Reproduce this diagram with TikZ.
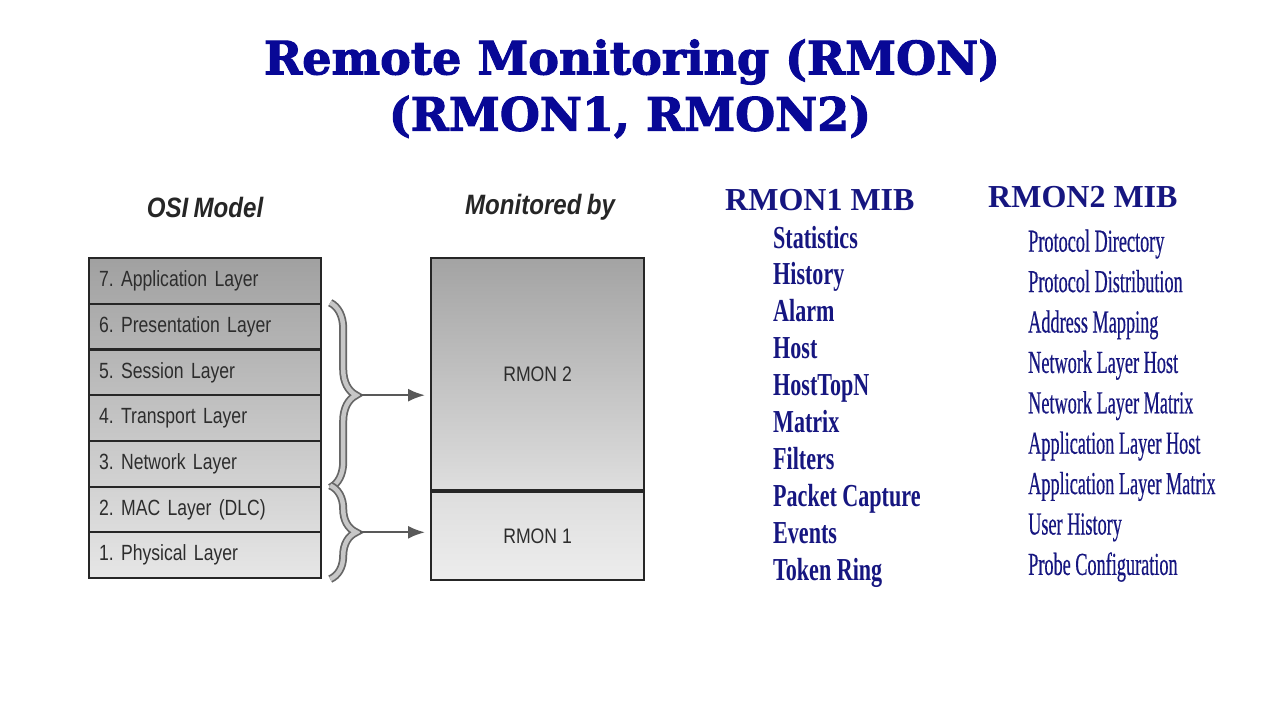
\documentclass[tikz,border=0pt]{standalone}
\usepackage{fontspec}
\setmainfont{Liberation Serif}
\newfontfamily\titlefont[FakeBold=2.2]{DejaVu Serif}
\newfontfamily\layerfont[FakeStretch=0.8,WordSpace=0.45]{Liberation Sans}
\newfontfamily\boxfont[FakeStretch=0.84]{Liberation Sans}
\newfontfamily\headfont[FakeStretch=0.86,WordSpace=0.8]{Liberation Sans}
\newfontfamily\condbold[FakeStretch=0.69]{Liberation Serif}
\newfontfamily\condserif[FakeStretch=0.57,FakeBold=0.4]{Liberation Serif}
\usepackage{xcolor}
\usetikzlibrary{arrows.meta,positioning,decorations.pathreplacing,calc}
\definecolor{titleblue}{RGB}{8,8,150}
\definecolor{mibblue}{RGB}{22,22,128}
\definecolor{layertext}{RGB}{45,45,45}
\frenchspacing

\begin{document}
\begin{tikzpicture}[x=1pt,y=-1pt,>=Latex,
 layer/.style={draw=black!85,line width=2.2pt,anchor=north west,minimum width=232pt,minimum height=45.7pt,text width=212pt,inner xsep=10pt,align=left,font=\layerfont\fontsize{22}{24}\selectfont,text=layertext},
 monitor/.style={draw=black!85,line width=2.2pt,minimum width=213pt,font=\boxfont\fontsize{21}{24}\selectfont,text=layertext},
 heading/.style={font=\headfont\bfseries\itshape\fontsize{28}{30}\selectfont,text=black!85},
 title/.style={font=\titlefont\bfseries\fontsize{46}{50}\selectfont,text=titleblue},
 mibtitle/.style={anchor=base west,inner sep=0pt,text=mibblue,font=\bfseries\fontsize{32}{36}\selectfont},
 mibone/.style={anchor=base west,inner sep=0pt,text=mibblue,font=\condbold\bfseries\fontsize{32}{36}\selectfont},
 mibtwo/.style={anchor=base west,inner sep=0pt,text=mibblue,font=\condserif\fontsize{32}{36}\selectfont},
 bracket/.style={decorate,decoration={brace,amplitude=26pt}},
 feed/.style={line width=2.2pt,draw=black!65,-{Latex[length=17pt,width=13pt]},shorten >=5pt}]
\fill[white] (0,0) rectangle (1280,720);
\useasboundingbox (0,0) rectangle (1280,720);
% title
\node[title] (title1) at (632,62) {Remote Monitoring (RMON)};
\node[title] (title2) at (630,117) {(RMON1, RMON2)};
% column headings
\node[heading] (osi) at (205,207) {OSI Model};
\node[heading] (mon) at (540,207) {Monitored by};
% OSI stack
\foreach \n/\t [count=\i, evaluate=\i as \tc using 37-(\i-1)*3.9, evaluate=\i as \bc using 37-\i*3.9] in
 {7/Application Layer,6/Presentation Layer,5/Session Layer,4/Transport Layer,3/Network Layer,2/MAC Layer (DLC),1/Physical Layer}
 \node[layer,top color=black!\tc,bottom color=black!\bc] (l\n) at (88,{257+(\i-1)*45.7}) {\n. \t};
% monitored by
\node[monitor,anchor=north west,minimum height=232pt,top color=black!36,bottom color=black!13] (rmon2) at (430,257) {RMON 2};
\node[monitor,below=0pt of rmon2,minimum height=88pt,top color=black!13,bottom color=black!7] (rmon1) {RMON 1};
% braces
\draw[bracket,line width=8pt,black!60] ([xshift=8pt]l6.north east) -- ([xshift=8pt]l3.south east);
\draw[bracket,line width=4.5pt,black!22] ([xshift=8pt]l6.north east) -- ([xshift=8pt]l3.south east);
\draw[bracket,line width=8pt,black!60] ([xshift=8pt]l2.north east) -- ([xshift=8pt]l1.south east);
\draw[bracket,line width=4.5pt,black!22] ([xshift=8pt]l2.north east) -- ([xshift=8pt]l1.south east);
\coordinate (tip2) at ($(l6.north east)!0.5!(l3.south east)+(38,0)$);
\coordinate (tip1) at ($(l2.north east)!0.5!(l1.south east)+(38,0)$);
\draw[feed] (tip2) -- (rmon2.west |- tip2);
\draw[feed] (tip1) -- (rmon1.west |- tip1);
% MIB lists
\node[mibtitle] (mib1) at (725,210) {RMON1 MIB};
\node[mibtitle] (mib2) at (988,207) {RMON2 MIB};
\foreach \t [count=\i] in {Statistics,History,Alarm,Host,HostTopN,Matrix,Filters,Packet Capture,Events,Token Ring}
 \node[mibone] (one\i) at (773,{248+(\i-1)*36.9}) {\t};
\foreach \t [count=\i] in {Protocol Directory,Protocol Distribution,Address Mapping,Network Layer Host,Network Layer Matrix,Application Layer Host,Application Layer Matrix,User History,Probe Configuration}
 \node[mibtwo] (two\i) at (1028,{251.7+(\i-1)*40.4}) {\t};
\end{tikzpicture}
\end{document}
